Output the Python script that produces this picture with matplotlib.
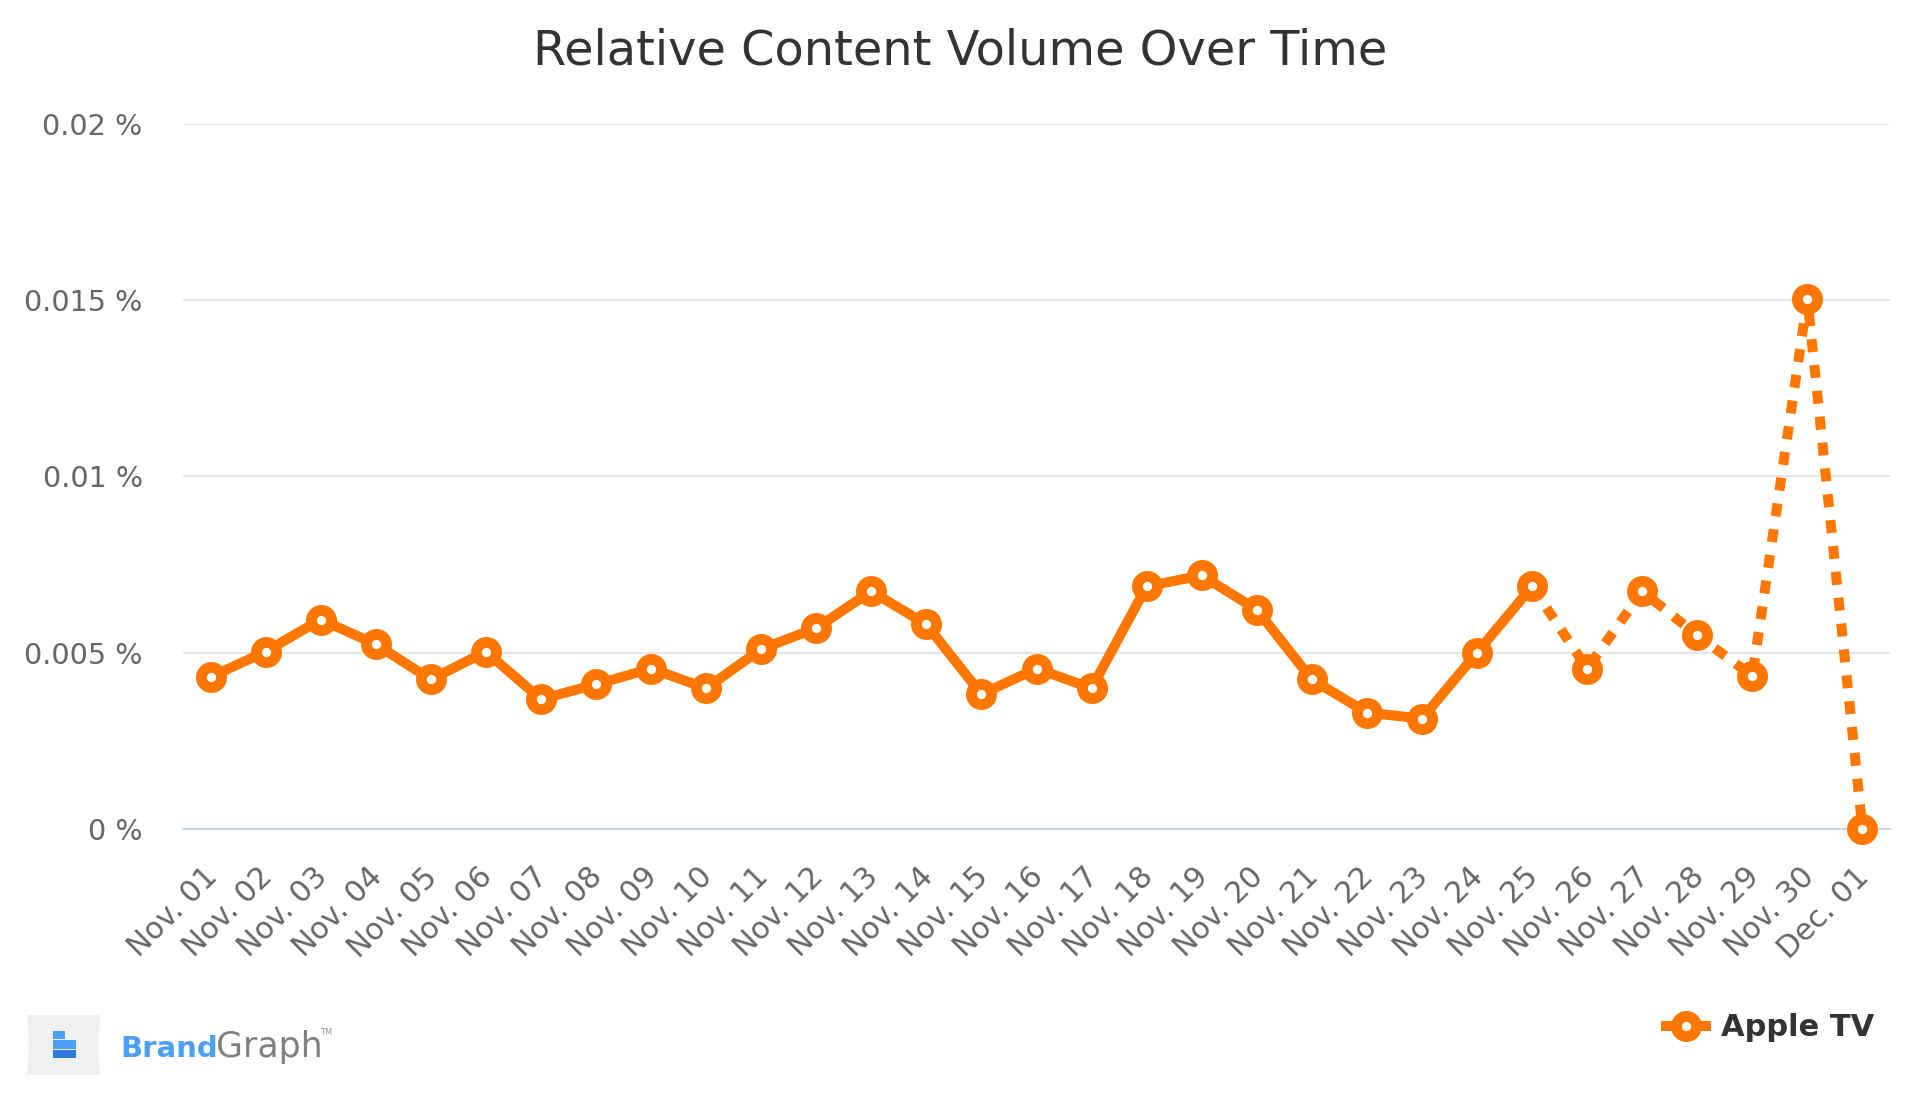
import matplotlib
matplotlib.use("Agg")
import matplotlib.pyplot as plt
from matplotlib.lines import Line2D
from matplotlib.patches import Rectangle, Polygon
from matplotlib.transforms import ScaledTranslation

categories = ["Nov. 01", "Nov. 02", "Nov. 03", "Nov. 04", "Nov. 05", "Nov. 06", "Nov. 07",
              "Nov. 08", "Nov. 09", "Nov. 10", "Nov. 11", "Nov. 12", "Nov. 13", "Nov. 14",
              "Nov. 15", "Nov. 16", "Nov. 17", "Nov. 18", "Nov. 19", "Nov. 20", "Nov. 21",
              "Nov. 22", "Nov. 23", "Nov. 24", "Nov. 25", "Nov. 26", "Nov. 27", "Nov. 28",
              "Nov. 29", "Nov. 30", "Dec. 01"]
values = [0.00431, 0.00503, 0.00594, 0.00524, 0.00424, 0.00503, 0.00368,
          0.00410, 0.00455, 0.00399, 0.00510, 0.00570, 0.00674, 0.00580,
          0.00382, 0.00455, 0.00399, 0.00688, 0.00719, 0.00622, 0.00424,
          0.00330, 0.00313, 0.00500, 0.00688, 0.00455, 0.00674, 0.00549,
          0.00434, 0.01503, 0.0]
solid_until = 24  # index where dotted (incomplete) zone starts
yticks = [0, 0.005, 0.01, 0.015, 0.02]
ytick_labels = ["0 %", "0.005 %", "0.01 %", "0.015 %", "0.02 %"]
series_name = "Apple TV"
title = "Relative Content Volume Over Time"

ORANGE = "#ff7700"
W, H = 1920, 1097
fig = plt.figure(figsize=(W / 100, H / 100), dpi=100)
fig.patch.set_facecolor("white")

left, right = 183, 1890
top, bottom = 123.7, 829
ax = fig.add_axes([left / W, 1 - bottom / H, (right - left) / W, (bottom - top) / H])
ax.set_facecolor("white")

x = list(range(len(values)))
lw = 7.2
ms = 14.5
mew = 7.8
ax.plot(x[:solid_until + 1], values[:solid_until + 1], color=ORANGE, lw=lw,
        solid_joinstyle="round", solid_capstyle="round", zorder=3, clip_on=False)
ax.plot(x[solid_until:], values[solid_until:], color=ORANGE, lw=lw,
        linestyle=(0, (1.3, 1.3)), dash_capstyle="butt", zorder=3, clip_on=False)
ax.plot(x, values, linestyle="none", marker="o", ms=ms, mfc="white", mec=ORANGE,
        mew=mew, zorder=4, clip_on=False)

ax.set_xlim(-0.5, len(values) - 0.5)
ax.set_ylim(0, 0.02)
ax.set_yticks(yticks)
ax.set_yticklabels(ytick_labels)
ax.set_xticks(x)
ax.set_xticklabels(categories, rotation=45, ha="right", va="top", rotation_mode="anchor")

ax.grid(axis="y", color="#e6e6e6", lw=1.5)
ax.set_axisbelow(True)
for s in ["top", "right", "left"]:
    ax.spines[s].set_visible(False)
ax.spines["bottom"].set_color("#ccd6eb")
ax.spines["bottom"].set_linewidth(1.5)
ax.tick_params(axis="y", length=0, pad=29, labelsize=20.6, labelcolor="#666666")
ax.tick_params(axis="x", length=0, pad=24, labelsize=21.5, labelcolor="#666666")

shift = ScaledTranslation(-8 / 100, 0, fig.dpi_scale_trans)
for lab in ax.get_xticklabels():
    lab.set_transform(lab.get_transform() + shift)

fig.text(0.5, 1 - 51 / H, title, ha="center", va="center", fontsize=34.5, color="#333333")

handle = Line2D([], [], color=ORANGE, lw=lw, marker="o", ms=ms, mfc="white",
                mec=ORANGE, mew=mew)
fig.legend(handles=[handle], labels=[series_name], loc="center right",
           bbox_to_anchor=(1902 / W, 1 - 1028 / H), frameon=False,
           prop={"size": 22, "weight": "bold"}, labelcolor="#333333",
           handlelength=1.3, handletextpad=0.5)

# BrandGraph logo
def fx(px):
    return px / W

def fy(py):
    return 1 - py / H

fig.patches.append(Polygon([(fx(27), fy(1015)), (fx(100), fy(1015)), (fx(98), fy(1045)),
                            (fx(100), fy(1075)), (fx(27), fy(1075)), (fx(29), fy(1045))],
                           closed=True, transform=fig.transFigure, facecolor="#eff0f0",
                           edgecolor="none"))
fig.patches.append(Rectangle((fx(53), fy(1039)), fx(12), 8 / H, transform=fig.transFigure,
                             facecolor="#4d9ef5", edgecolor="none"))
fig.patches.append(Rectangle((fx(53), fy(1049)), fx(23), 9 / H, transform=fig.transFigure,
                             facecolor="#4d9ef5", edgecolor="none"))
fig.patches.append(Rectangle((fx(53), fy(1058)), fx(23), 8 / H, transform=fig.transFigure,
                             facecolor="#2f78dd", edgecolor="none"))
fig.text(fx(120), fy(1057), "Brand", ha="left", va="baseline", fontsize=21,
         fontweight="bold", color="#4d9ef5")
fig.text(fx(216), fy(1057), "Graph", ha="left", va="baseline", fontsize=25,
         color="#808080")
fig.text(fx(320), fy(1035), "TM", ha="left", va="baseline", fontsize=6, color="#999999")

fig.savefig("out.png", dpi=100, facecolor="white")
